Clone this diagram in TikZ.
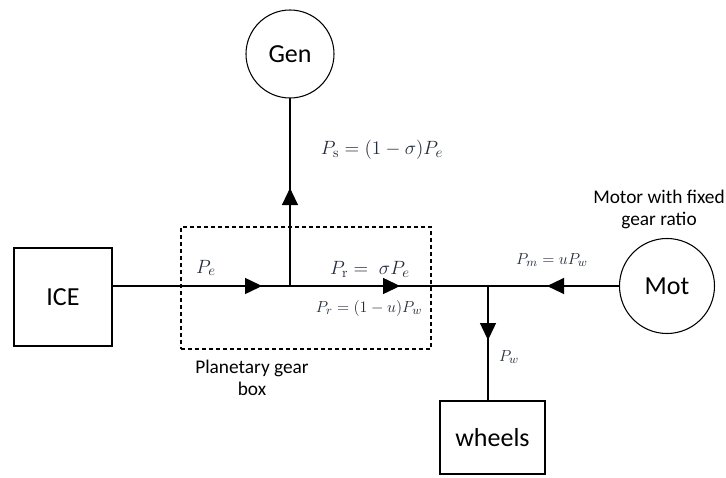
\documentclass[tikz,border=0pt]{standalone}
\usepackage{fontspec}
\setmainfont{Carlito}
\setmathrm{Latin Modern Roman}
\usepackage{xcolor}
\definecolor{eqblue}{HTML}{232C3C}
\usetikzlibrary{arrows.meta, positioning, decorations.markings, calc}

\begin{document}
\begin{tikzpicture}[
  x=0.75pt, y=-0.75pt,
  block/.style={rectangle, draw, line width=0.8pt, inner sep=0pt, outer sep=0pt,
    font=\fontsize{19.5}{22}\selectfont},
  machine/.style={circle, draw, line width=0.8pt, inner sep=0pt, outer sep=0pt,
    font=\fontsize{19.5}{22}\selectfont},
  gearbox/.style={rectangle, draw, dash pattern=on 3pt off 2.25pt,
    line width=1pt, inner sep=0pt},
  shaft/.style={line width=0.9pt},
  flow/.style={shaft, postaction={decorate}, decoration={markings,
    mark=at position #1 with {\arrow{Triangle[length=12.75pt, width=12pt]}}}},
  eq/.style={text=eqblue, inner sep=0pt, font=\fontsize{15}{18}\selectfont},
  eqs/.style={eq, font=\fontsize{12.5}{15}\selectfont},
  note/.style={align=center, inner sep=0pt, font=\fontsize{14.5}{16.5}\selectfont}
]
  \useasboundingbox (0,0) rectangle (726,478);

  % machines and blocks
  \node[machine, minimum size=66pt] (gen) at (290,54) {Gen};
  \node[machine, minimum size=71.25pt] (mot) at (667,286) {Mot};
  \node[block, minimum width=73.5pt, minimum height=73.5pt] (ice) at (63,297) {ICE};
  \node[block, minimum width=78.75pt, minimum height=54.75pt] (wheels)
    at (492.5,437.5) {wheels};
  \node[gearbox, minimum width=187.5pt, minimum height=91.5pt] (pgb) at (306,288) {};

  \coordinate (js) at (290,286);
  \coordinate (jw) at (488,286);

  % power flows
  \draw[flow=0.843] (ice.east |- js) -- (js);
  \draw[flow=0.556] (js) -- (jw);
  \draw[flow=0.551] (mot.west) -- (jw);
  \draw[flow=0.521] (js) -- (gen.south);
  \draw[flow=0.47] (jw) -- (jw |- wheels.north);

  % labels
  \node[eq] (ps) at (382,150) {$P_{\mathrm{s}} = (1-\sigma)P_e$};
  \node[eq] (pe) at (206,268) {$P_e$};
  \node[eq] (pr) at (370,269) {$P_{\mathrm{r}} = \;\sigma P_e$};
  \node[eqs] (prw) at (369,308) {$P_r = (1-u)P_w$};
  \node[eqs] (pm) at (552,260) {$P_m = uP_w$};
  \node[eqs] (pw) at (509,357) {$P_w$};
  \node[note] (motnote) at (659,209) {Motor with fixed\\gear ratio};
  \node[note] (pgbnote) at (252,378) {Planetary gear\\box};
\end{tikzpicture}
\end{document}
